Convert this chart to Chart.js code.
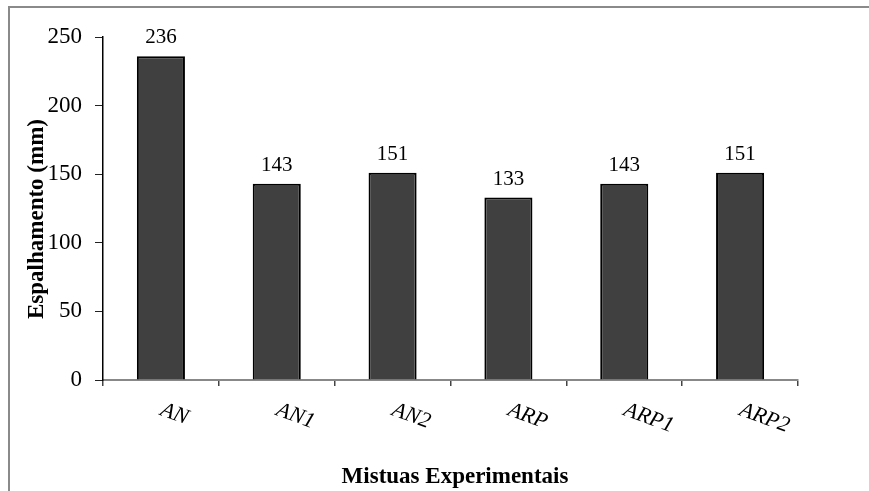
<!DOCTYPE html>
<html>
<head>
<meta charset="utf-8">
<script src="https://cdn.jsdelivr.net/npm/chart.js@4.4.0/dist/chart.umd.min.js"></script>
<style>
  html, body { margin: 0; padding: 0; background: #fff; overflow: hidden; }
  #wrap { position: relative; width: 869px; height: 491px; }
  #frame { position: absolute; left: 8px; top: 6px; width: 900px; height: 600px;
           border-top: 2px solid #8a8a8a; border-left: 2px solid #8a8a8a; }
  canvas { position: absolute; left: 0; top: 0; }
</style>
</head>
<body>
<div id="wrap">
  <div id="frame"></div>
  <canvas id="espalhamentoChart" width="869" height="491"></canvas>
</div>
<script>
// Chart data
var mixtures = ['AN', 'AN1', 'AN2', 'ARP', 'ARP1', 'ARP2'];
var spreading = [236, 143, 151, 133, 143, 151];
var yTicks = [0, 50, 100, 150, 200, 250];

var yTitle = 'Espalhamento (mm)';
var xTitle = 'Mistuas Experimentais';

var serif = '"Liberation Serif", "Times New Roman", serif';

// Draws value labels, slanted category labels and axis titles
var labelsPlugin = {
    id: 'labelsPlugin',
    afterDatasetsDraw: function (chart) {
        var ctx = chart.ctx;
        var meta = chart.getDatasetMeta(0);
        ctx.save();
        ctx.font = '21px ' + serif;
        ctx.fillStyle = '#000';
        ctx.textAlign = 'center';
        ctx.textBaseline = 'alphabetic';
        meta.data.forEach(function (bar, i) {
            ctx.fillText(String(spreading[i]), bar.x, bar.y - 13);
        });
        ctx.restore();
    },
    afterDraw: function (chart) {
        var ctx = chart.ctx;
        var xScale = chart.scales.x;
        var area = chart.chartArea;

        // category labels, italic and tilted down to the right
        ctx.save();
        ctx.font = 'italic 22px ' + serif;
        ctx.fillStyle = '#000';
        ctx.textAlign = 'left';
        ctx.textBaseline = 'top';
        mixtures.forEach(function (name, i) {
            var x = xScale.getPixelForValue(i);
            ctx.save();
            ctx.translate(x + 4, area.bottom + 19);
            ctx.rotate(20 * Math.PI / 180);
            ctx.fillText(name, 0, 0);
            ctx.restore();
        });
        ctx.restore();

        // axis titles
        ctx.save();
        ctx.font = 'bold 23px ' + serif;
        ctx.fillStyle = '#000';
        ctx.textAlign = 'center';
        ctx.textBaseline = 'alphabetic';
        ctx.fillText(xTitle, 455, 483);
        ctx.translate(43, 219);
        ctx.rotate(-Math.PI / 2);
        ctx.fillText(yTitle, 0, 0);
        ctx.restore();
    }
};

var ctx = document.getElementById('espalhamentoChart').getContext('2d');
var chart = new Chart(ctx, {
    type: 'bar',
    data: {
        labels: mixtures,
        datasets: [{
            label: yTitle,
            data: spreading,
            backgroundColor: '#404040',
            borderColor: '#000',
            borderWidth: 2,
            barPercentage: 1,
            categoryPercentage: 0.415
        }]
    },
    options: {
        responsive: false,
        animation: false,
        devicePixelRatio: 1,
        layout: {
            padding: { left: 0, right: 71, top: 37, bottom: 0 }
        },
        plugins: {
            legend: { display: false },
            tooltip: { enabled: false }
        },
        scales: {
            x: {
                offset: true,
                grid: {
                    offset: true,
                    drawOnChartArea: false,
                    drawTicks: true,
                    tickLength: 6,
                    color: '#444',
                    lineWidth: 1.5
                },
                border: { color: '#888', width: 2 },
                ticks: { display: false },
                afterFit: function (scale) { scale.height = 111; }
            },
            y: {
                min: 0,
                max: 250,
                afterBuildTicks: function (scale) {
                    scale.ticks = yTicks.map(function (v) { return { value: v }; });
                },
                grid: {
                    drawOnChartArea: false,
                    drawTicks: true,
                    tickLength: 8,
                    color: '#222',
                    lineWidth: 1
                },
                border: { color: '#000', width: 1.5 },
                ticks: {
                    padding: 13,
                    color: '#000',
                    font: { family: serif, size: 23 }
                },
                afterFit: function (scale) { scale.width = 103; }
            }
        }
    },
    plugins: [labelsPlugin]
});
</script>
</body>
</html>
